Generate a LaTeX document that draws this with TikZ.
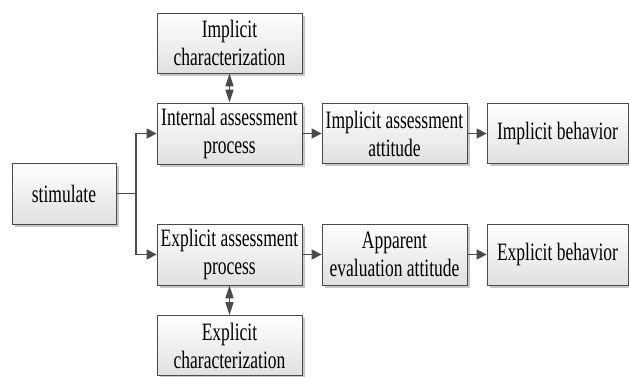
\documentclass[tikz,border=0pt]{standalone}
\usepackage{fontspec}
\setmainfont{Liberation Serif}[FakeStretch=0.7]
\usetikzlibrary{arrows.meta,shadows}
\definecolor{linec}{HTML}{4A4A4A}
\begin{document}
\begin{tikzpicture}[x=1pt,y=-1pt,
  box/.style={draw=linec, line width=0.8pt, top color=white, bottom color=black!12,
    inner sep=0pt, align=center, font=\fontsize{25}{28}\selectfont,
    drop shadow={shadow xshift=2.5pt, shadow yshift=-2.5pt, fill=black!22, opacity=1}},
  conn/.style={draw=linec, line width=1.4pt, -{Triangle[length=10pt,width=10pt]}},
  dconn/.style={draw=linec, line width=1.4pt, {Triangle[length=13pt,width=8pt]}-{Triangle[length=13pt,width=8pt]}}]
\useasboundingbox (0,0) rectangle (629,376);
\node[box, minimum width=145pt, minimum height=60pt] (ichar) at (229.5,43) {Implicit\\characterization};
\node[box, minimum width=145pt, minimum height=61pt] (iproc) at (229.5,133.5) {Internal assessment\\process};
\node[box, minimum width=104pt, minimum height=61pt] (stim) at (64,193.5) {stimulate};
\node[box, minimum width=145pt, minimum height=61pt] (eproc) at (229.5,254.5) {Explicit assessment\\process};
\node[box, minimum width=145pt, minimum height=60pt] (echar) at (229.5,345.5) {Explicit\\characterization};
\node[box, minimum width=145pt, minimum height=60pt] (iatt) at (394.5,133.5) {Implicit assessment\\attitude};
\node[box, minimum width=141pt, minimum height=60pt] (ibeh) at (557.5,133.5) {Implicit behavior};
\node[box, minimum width=145pt, minimum height=61pt] (eatt) at (394.5,254.5) {Apparent\\evaluation attitude};
\node[box, minimum width=141pt, minimum height=61pt] (ebeh) at (557.5,254.5) {Explicit behavior};
\coordinate (split) at (136,193.5);
\draw[draw=linec, line width=1.2pt] (stim.east) -- (split);
\draw[conn] (split) |- (iproc.west);
\draw[conn] (split) |- (eproc.west);
\draw[conn] (iproc) -- (iatt);
\draw[conn] (iatt) -- (ibeh);
\draw[conn] (eproc) -- (eatt);
\draw[conn] (eatt) -- (ebeh);
\draw[dconn] (ichar) -- (iproc);
\draw[dconn] (eproc) -- (echar);
\end{tikzpicture}
\end{document}
